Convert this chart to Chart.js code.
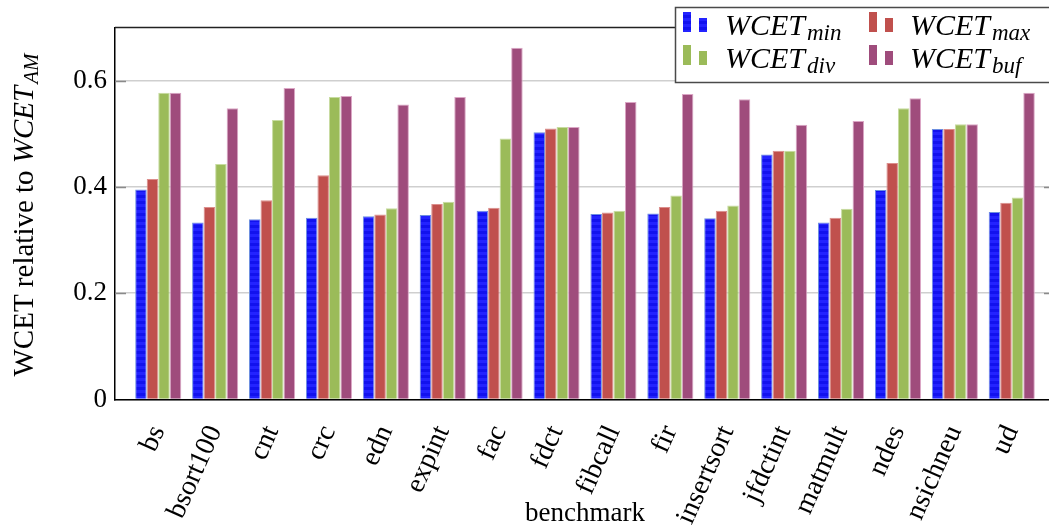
<!DOCTYPE html>
<html>
<head>
<meta charset="utf-8">
<script src="https://cdn.jsdelivr.net/npm/chart.js@4.4.1/dist/chart.umd.min.js"></script>
<style>
  html, body { margin: 0; padding: 0; background: #fff; overflow: hidden; }
  #wrap { width: 1070px; height: 530px; }
</style>
</head>
<body>
<div id="wrap"><canvas id="c" width="1070" height="530"></canvas></div>
<script>
// Benchmarks (x categories)
const benchmarks = ['bs', 'bsort100', 'cnt', 'crc', 'edn', 'expint', 'fac', 'fdct',
  'fibcall', 'fir', 'insertsort', 'jfdctint', 'matmult', 'ndes', 'nsichneu', 'ud'];

// WCET relative to WCET_AM, one array per configuration
const wcetMin = [0.395, 0.333, 0.339, 0.342, 0.345, 0.347, 0.355, 0.503, 0.349, 0.350, 0.341, 0.461, 0.333, 0.394, 0.509, 0.353];
const wcetMax = [0.415, 0.362, 0.375, 0.422, 0.348, 0.368, 0.361, 0.510, 0.352, 0.362, 0.355, 0.468, 0.342, 0.445, 0.509, 0.370];
const wcetDiv = [0.577, 0.443, 0.526, 0.569, 0.360, 0.372, 0.491, 0.513, 0.355, 0.384, 0.365, 0.468, 0.359, 0.548, 0.518, 0.380];
const wcetBuf = [0.577, 0.548, 0.586, 0.571, 0.555, 0.569, 0.662, 0.513, 0.560, 0.575, 0.565, 0.517, 0.524, 0.567, 0.518, 0.577];

// Series names: base text + subscript
const seriesNames = [['WCET', 'min'], ['WCET', 'max'], ['WCET', 'div'], ['WCET', 'buf']];

// y tick labels
const yTicks = [0, 0.2, 0.4, 0.6];

const SERIF = '"Liberation Serif", "Times New Roman", serif';
const canvas = document.getElementById('c');
const ctx = canvas.getContext('2d');

// horizontal striped fill for the first series
function stripedBlue() {
  const p = document.createElement('canvas');
  p.width = 4; p.height = 6;
  const g = p.getContext('2d');
  g.fillStyle = '#2323ff'; g.fillRect(0, 0, 4, 3);
  g.fillStyle = '#1212ee'; g.fillRect(0, 3, 4, 3);
  return ctx.createPattern(p, 'repeat');
}
const blueFill = stripedBlue();

const fills = [blueFill, '#c0504d', '#9bbb59', '#9f4c7c'];
const edges = ['#6d8fe0', '#dc8e8c', '#c7dca0', '#dba6c5'];
const seriesValues = [wcetMin, wcetMax, wcetDiv, wcetBuf];

const datasets = seriesValues.map((vals, k) => ({
  label: seriesNames[k].join('_'),
  data: vals.map((v, i) => ({ x: i, y: v })),
  backgroundColor: fills[k],
  borderColor: edges[k],
  borderWidth: { left: 1, right: 1, top: 1, bottom: 0 },
  categoryPercentage: 0.81,
  barPercentage: 1.0
}));

// draws "base" + italic subscript, returns total width
function drawSubText(g, x, y, base, sub, size, subSize, drop) {
  const baseFont = 'italic ' + size + 'px ' + SERIF;
  const subFont = 'italic ' + subSize + 'px ' + SERIF;
  g.textAlign = 'left';
  g.textBaseline = 'alphabetic';
  g.font = baseFont;
  const wb = g.measureText(base).width;
  g.fillText(base, x, y);
  g.font = subFont;
  const ws = g.measureText(sub).width;
  g.fillText(sub, x + wb + 2, y + drop);
  return wb + ws + 2;
}

function subTextWidth(g, base, sub, size, subSize) {
  g.font = 'italic ' + size + 'px ' + SERIF;
  const wb = g.measureText(base).width;
  g.font = 'italic ' + subSize + 'px ' + SERIF;
  return wb + g.measureText(sub).width + 2;
}

const decorations = {
  id: 'decorations',
  beforeDatasetsDraw(chart) {
    const { ctx: g, chartArea: a, scales } = chart;
    g.save();
    g.strokeStyle = '#8a8a8a';
    g.lineWidth = 1.5;
    yTicks.forEach(t => {
      if (t === 0) return;
      const y = Math.round(scales.y.getPixelForValue(t)) + 0.5;
      g.beginPath();
      g.moveTo(a.left, y); g.lineTo(a.left + 11, y);
      g.moveTo(a.right - 11, y); g.lineTo(a.right, y);
      g.stroke();
    });
    g.restore();
  },
  afterDraw(chart) {
    const { ctx: g, chartArea: a } = chart;
    g.save();
    // top frame line
    g.strokeStyle = '#222';
    g.lineWidth = 1.5;
    g.beginPath();
    g.moveTo(a.left, a.top); g.lineTo(a.right, a.top);
    g.moveTo(a.right, a.top); g.lineTo(a.right, a.bottom);
    g.stroke();

    // legend box
    g.fillStyle = '#fff';
    g.fillRect(675, 7, 420, 75);
    g.strokeStyle = '#4a4a4a';
    g.lineWidth = 1.5;
    g.strokeRect(675.5, 7.5, 420, 75);

    const cols = [{ m: 683, t: 725 }, { m: 869, t: 910 }];
    const rows = [{ top: 12, bot: 32, base: 35 }, { top: 45, bot: 65, base: 68 }];
    chart.data.datasets.forEach((ds, k) => {
      const c = cols[k % 2], r = rows[Math.floor(k / 2)];
      g.fillStyle = ds.backgroundColor;
      g.fillRect(c.m, r.top, 8, r.bot - r.top);
      g.fillRect(c.m + 16, r.top + 6, 8, r.bot - r.top - 6);
      g.fillStyle = '#000';
      drawSubText(g, c.t, r.base, seriesNames[k][0], seriesNames[k][1], 30, 23, 5);
    });

    // axis titles
    g.fillStyle = '#000';
    g.font = '27px ' + SERIF;
    g.textAlign = 'center';
    g.textBaseline = 'alphabetic';
    g.fillText('benchmark', (a.left + a.right) / 2, 521);

    g.translate(33, 215);
    g.rotate(-Math.PI / 2);
    const lead = 'WCET relative to ';
    g.font = '29px ' + SERIF;
    const wl = g.measureText(lead).width;
    const wt = subTextWidth(g, 'WCET', 'AM', 29, 21);
    const x0 = -(wl + wt) / 2;
    g.textAlign = 'left';
    g.font = '29px ' + SERIF;
    g.fillText(lead, x0, 0);
    drawSubText(g, x0 + wl, 0, 'WCET', 'AM', 29, 21, 5);
    g.restore();
  }
};

new Chart(canvas, {
  type: 'bar',
  data: { datasets },
  options: {
    responsive: false,
    animation: false,
    devicePixelRatio: 1,
    layout: { padding: { left: 0, top: 27.5, right: 15, bottom: 0 } },
    plugins: { legend: { display: false }, tooltip: { enabled: false } },
    scales: {
      x: {
        type: 'linear',
        min: -0.76,
        max: 15.76,
        offset: false,
        grid: { display: false, drawTicks: false },
        border: { display: true, color: '#000', width: 1.5 },
        ticks: {
          stepSize: 1,
          includeBounds: false,
          autoSkip: false,
          minRotation: 66,
          maxRotation: 66,
          padding: 21,
          color: '#000',
          font: { family: SERIF, size: 28 },
          callback: v => (Number.isInteger(v) && benchmarks[v] !== undefined) ? benchmarks[v] : ''
        },
        afterFit: s => { s.height = 130.5; }
      },
      y: {
        min: 0,
        max: 0.7,
        grid: { color: '#cfcfcf', lineWidth: 1.5, drawTicks: false },
        border: { display: true, color: '#000', width: 1.5 },
        ticks: {
          stepSize: 0.2,
          includeBounds: false,
          padding: 8,
          color: '#000',
          font: { family: SERIF, size: 27 },
          callback: v => {
            const t = yTicks.find(t => Math.abs(t - v) < 1e-9);
            return t === undefined ? '' : String(t);
          }
        },
        afterFit: s => { s.width = 115; }
      }
    }
  },
  plugins: [decorations]
});
</script>
</body>
</html>
